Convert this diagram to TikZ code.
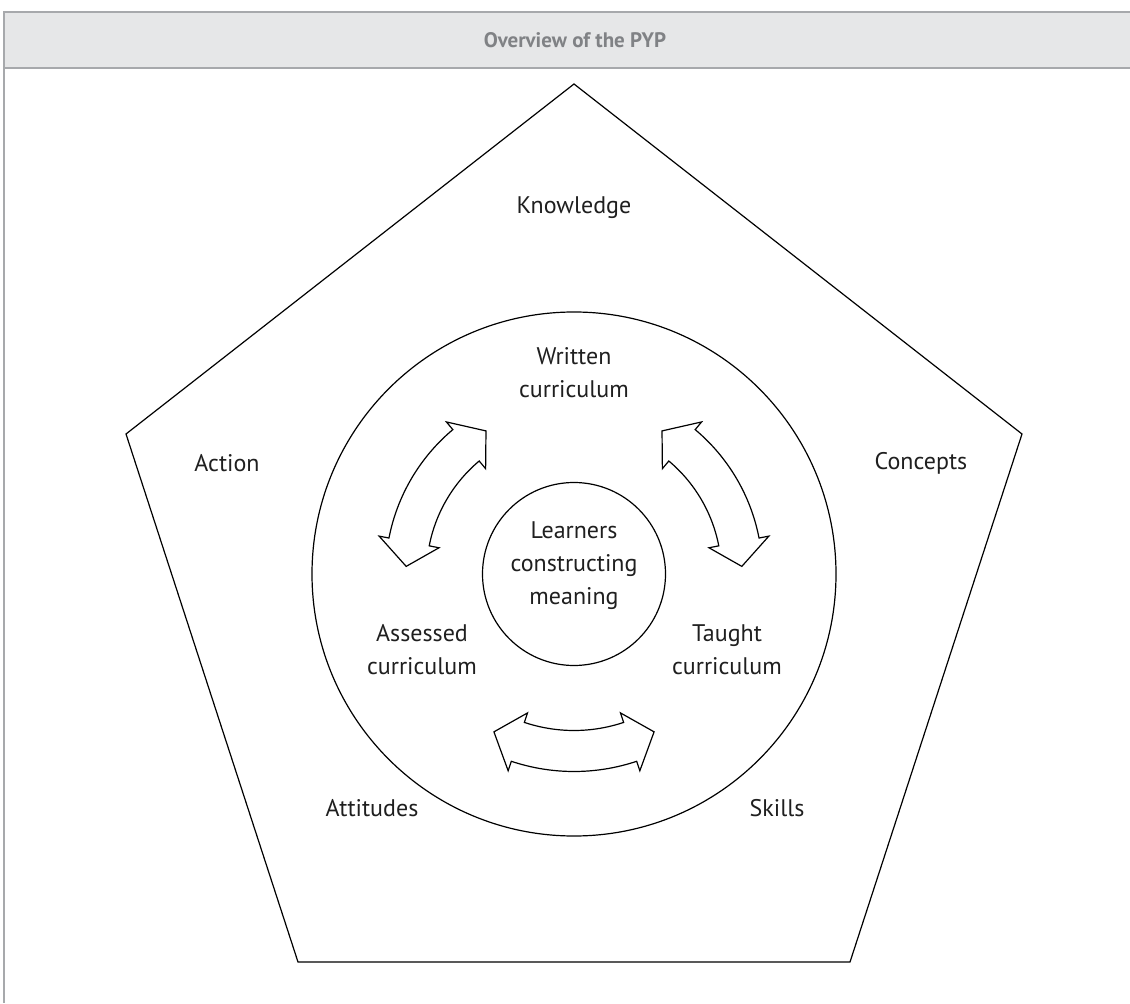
\documentclass[tikz,border=0pt]{standalone}
\usepackage{fontspec}
\setmainfont{PT Sans}
\usepackage{tikz}
\usetikzlibrary{positioning, calc}
\definecolor{bandgray}{HTML}{E6E7E8}
\definecolor{rulegray}{HTML}{A7A9AC}
\definecolor{titlegray}{HTML}{808285}
\tikzset{
  outline/.style={draw=black, line width=0.6pt, line join=miter},
  ring/.style={circle, draw=black, line width=0.6pt, inner sep=0pt},
  elem/.style={font=\fontsize{12}{16.5}\selectfont, align=center, text=black!88},
  bandrule/.style={draw=rulegray, line width=0.8pt},
  bentarrow/.style={draw=black, line width=0.6pt, fill=white, line join=miter},
}
%% curved double arrow round the hub: #1 mid angle, #2 mid radius, #3 half span
\newcommand{\curvedarrow}[3]{%
  \pgfmathsetmacro{\arrS}{#1-#3}\pgfmathsetmacro{\arrE}{#1+#3}%
  \pgfmathsetmacro{\arrT}{#3+8.4}%
  \draw[bentarrow] (\arrS:#2+20.5) arc[start angle=\arrS, end angle=\arrE, radius=#2+20.5]
    -- (\arrE:#2+30.5) -- (#1+\arrT:#2) -- (\arrE:#2-30.5) -- (\arrE:#2-20.5)
    arc[start angle=\arrE, end angle=\arrS, radius=#2-20.5]
    -- (\arrS:#2-30.5) -- (#1-\arrT:#2) -- (\arrS:#2+30.5) -- cycle;}
\begin{document}
\begin{tikzpicture}[x=0.5pt, y=0.5pt]
    \useasboundingbox (0,0) rectangle (1130,1003);
    %% header band
    \fill[bandgray] (4,935) rectangle (1130,991);
    \draw[bandrule] (1130,991) -- (4,991) -- (4,0);
    \draw[bandrule] (4,935) -- (1130,935);
    \node[font=\fontsize{10.5}{12}\selectfont\bfseries, text=titlegray] (title) at (575,963) {Overview of the PYP};
    %% pentagon
    \coordinate (ptop) at (574,919);
    \coordinate (pright) at (1022,569);
    \coordinate (pbr) at (850,41);
    \coordinate (pbl) at (298,41);
    \coordinate (pleft) at (126,569);
    \draw[outline] (ptop) -- (pright) -- (pbr) -- (pbl) -- (pleft) -- cycle;
    \node[elem] (knowledge) at (574,795) {Knowledge};
    \node[elem] (action) at (227,540) {Action};
    \node[elem] (concepts) at (921,540) {Concepts};
    \node[elem] (attitudes) at (372,195) {Attitudes};
    \node[elem] (skills) at (777,195) {Skills};
    %% circles
    \coordinate (hub) at (574,429);
    \node[ring, minimum size=262pt] (wheel) at (hub) {};
    \node[ring, minimum size=91.5pt] (core) at (hub) {};
    \node[elem] (learners) at (574,437) {Learners\\constructing\\meaning};
    \node[elem] (written) at (574,630) {Written\\curriculum};
    \node[elem] (assessed) at (422,353) {Assessed\\curriculum};
    \node[elem] (taught) at (727,353) {Taught\\curriculum};
    %% arrows
    \begin{scope}[shift={(hub)}]
      \curvedarrow{30.5}{168}{19.5}
      \curvedarrow{149.5}{168}{19.5}
      \curvedarrow{270}{177}{18.5}
    \end{scope}
\end{tikzpicture}
\end{document}
